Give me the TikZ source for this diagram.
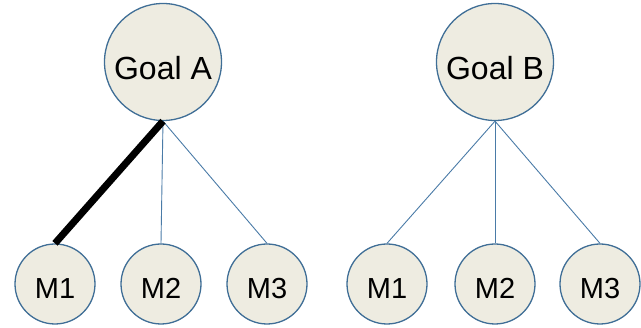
\documentclass[tikz,border=0pt]{standalone}
\usepackage{fontspec}
\setmainfont{Liberation Sans}
\definecolor{nodefill}{HTML}{EEECE1}
\definecolor{nodeedge}{HTML}{3F6E96}
\definecolor{linkcol}{HTML}{4A7BA7}
\begin{document}
\begin{tikzpicture}[x=1pt,y=1pt,
  goal/.style={circle,draw=nodeedge,fill=nodefill,line width=1.3pt,minimum size=117pt,inner sep=0pt,text height=35pt,text depth=0pt,font=\fontsize{32}{34}\selectfont},
  mnode/.style={circle,draw=nodeedge,fill=nodefill,line width=1.3pt,minimum size=80pt,inner sep=0pt,text height=29pt,text depth=0pt,font=\fontsize{29}{31}\selectfont},
  link/.style={draw=linkcol,line width=0.9pt},
  strong/.style={draw=black,line width=7pt}]
\useasboundingbox (0,0) rectangle (641,328);
\node[goal] (GA) at (163,266) {Goal A};
\node[goal] (GB) at (495,266) {Goal B};
\node[mnode] (A1) at (55,44) {M1};
\node[mnode] (A2) at (161,44) {M2};
\node[mnode] (A3) at (267,44) {M3};
\node[mnode] (B1) at (387,44) {M1};
\node[mnode] (B2) at (495,44) {M2};
\node[mnode] (B3) at (600,44) {M3};
\draw[link] (GA.south) -- (A2.north);
\draw[link] (GA.south) -- (A3.north);
\draw[strong] (GA.south) -- (A1.north);
\draw[link] (GB.south) -- (B1.north);
\draw[link] (GB.south) -- (B2.north);
\draw[link] (GB.south) -- (B3.north);
\end{tikzpicture}
\end{document}
